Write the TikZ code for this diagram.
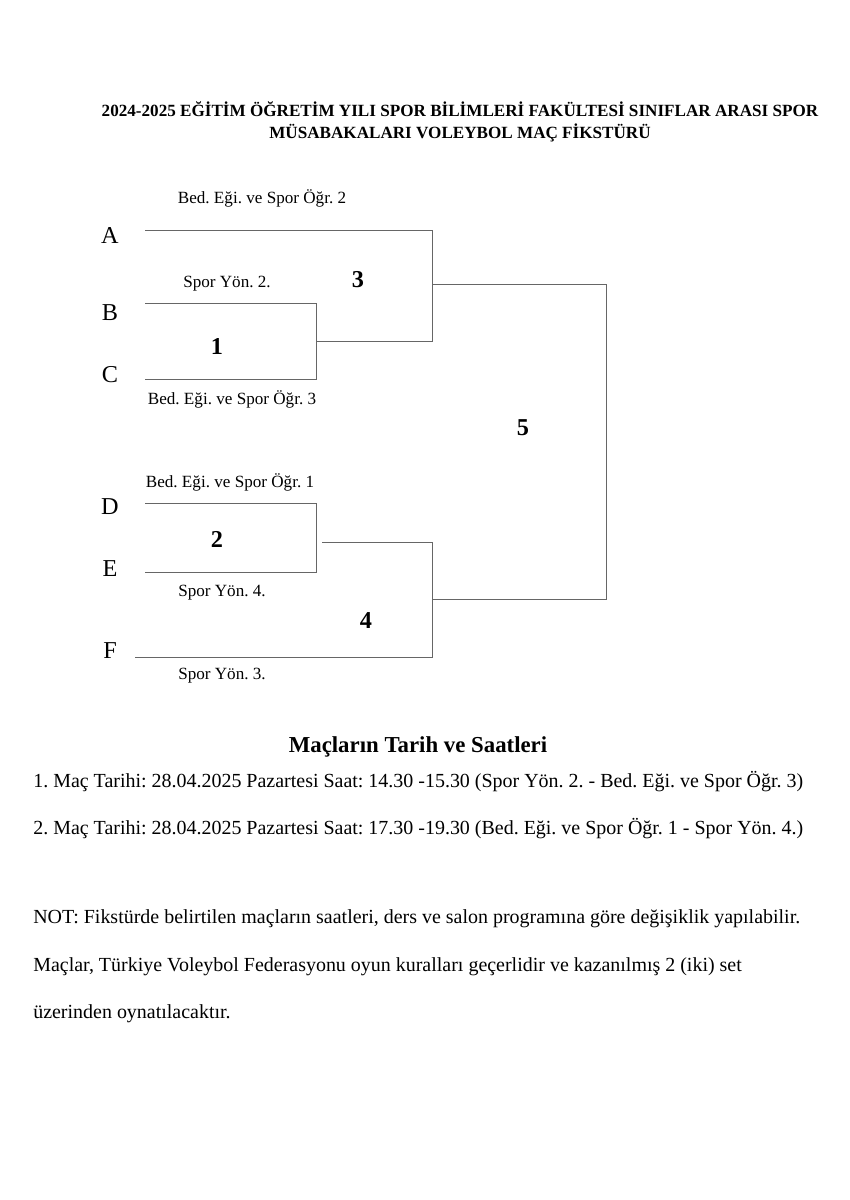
\documentclass[tikz,border=0pt]{standalone}
\usepackage{fontspec}
\setmainfont{Liberation Serif}
\usetikzlibrary{positioning}
\frenchspacing

\begin{document}
\begin{tikzpicture}[x=0.7012pt, y=-0.7012pt,
    team/.style = {font=\fontsize{17}{19}\selectfont, inner sep=0pt},
    club/.style = {font=\fontsize{12}{14}\selectfont, inner sep=0pt},
    matchno/.style = {font=\fontsize{17}{20}\selectfont\bfseries, inner sep=0pt},
    bracket/.style = {draw=black!60, line width=0.6pt},
    body/.style = {font=\fontsize{14}{16}\selectfont, anchor=base west, inner sep=0pt}]
  \useasboundingbox (0,0) rectangle (849,1200);

  % title
  \node[font=\fontsize{12}{14}\selectfont\bfseries, anchor=base, inner sep=0pt] (title1) at (460,116) {2024-2025 EĞİTİM ÖĞRETİM YILI SPOR BİLİMLERİ FAKÜLTESİ SINIFLAR ARASI SPOR};
  \node[font=\fontsize{12}{14}\selectfont\bfseries, anchor=base, inner sep=0pt] (title2) at (460,138.5) {MÜSABAKALARI VOLEYBOL MAÇ FİKSTÜRÜ};

  % teams
  \foreach \t/\y in {A/235, B/313, C/375, D/507, E/569, F/651}
    \node[team] (\t) at (110,\y) {\t};

  % bracket
  \coordinate (a0) at (145,230); \coordinate (a1) at (432,230);
  \coordinate (b0) at (145,303); \coordinate (b1) at (316,303);
  \coordinate (c0) at (145,379); \coordinate (c1) at (316,379);
  \coordinate (m1) at (316,341); \coordinate (m1r) at (432,341);
  \coordinate (m3) at (432,284); \coordinate (m3r) at (606,284);
  \coordinate (d0) at (145,503); \coordinate (d1) at (316,503);
  \coordinate (e0) at (145,572); \coordinate (e1) at (316,572);
  \coordinate (m2) at (322,542); \coordinate (m2r) at (432,542);
  \coordinate (f0) at (135,657); \coordinate (f1) at (432,657);
  \coordinate (m4) at (432,599); \coordinate (m4r) at (606,599);

  \draw[bracket] (a0) -- (a1) -- (m1r) -- (m1);
  \draw[bracket] (b0) -- (b1) -- (c1) -- (c0);
  \draw[bracket] (m3) -- (m3r) -- (m4r) -- (m4);
  \draw[bracket] (d0) -- (d1) -- (e1) -- (e0);
  \draw[bracket] (m2) -- (m2r) -- (f1) -- (f0);

  % club names
  \node[club] (clubA) at (262,198) {Bed. Eği. ve Spor Öğr. 2};
  \node[club] (clubB) at (227,284) {Spor Yön. 2.};
  \node[club] (clubC) at (232,399) {Bed. Eği. ve Spor Öğr. 3};
  \node[club] (clubD) at (230,482) {Bed. Eği. ve Spor Öğr. 1};
  \node[club] (clubE) at (222,593) {Spor Yön. 4.};
  \node[club] (clubF) at (222,676) {Spor Yön. 3.};

  % match numbers
  \node[matchno] (no1) at (217,346) {1};
  \node[matchno] (no2) at (217,539) {2};
  \node[matchno] (no3) at (358,280) {3};
  \node[matchno] (no4) at (366,621) {4};
  \node[matchno] (no5) at (523,428) {5};

  % dates and notes
  \node[font=\fontsize{16}{18}\selectfont\bfseries, anchor=base, inner sep=0pt] (dates) at (418,752) {Maçların Tarih ve Saatleri};
  \node[body] (game1) at (33,787) {1. Maç Tarihi: 28.04.2025 Pazartesi Saat: 14.30 -15.30 (Spor Yön. 2. - Bed. Eği. ve Spor Öğr. 3)};
  \node[body] (game2) at (33,834) {2. Maç Tarihi: 28.04.2025 Pazartesi Saat: 17.30 -19.30 (Bed. Eği. ve Spor Öğr. 1 - Spor Yön. 4.)};
  \node[body] (note1) at (33,923) {NOT: Fikstürde belirtilen maçların saatleri, ders ve salon programına göre değişiklik yapılabilir.};
  \node[body] (note2) at (33,971) {Maçlar, Türkiye Voleybol Federasyonu oyun kuralları geçerlidir ve kazanılmış 2 (iki) set};
  \node[body] (note3) at (33,1018) {üzerinden oynatılacaktır.};
\end{tikzpicture}
\end{document}
